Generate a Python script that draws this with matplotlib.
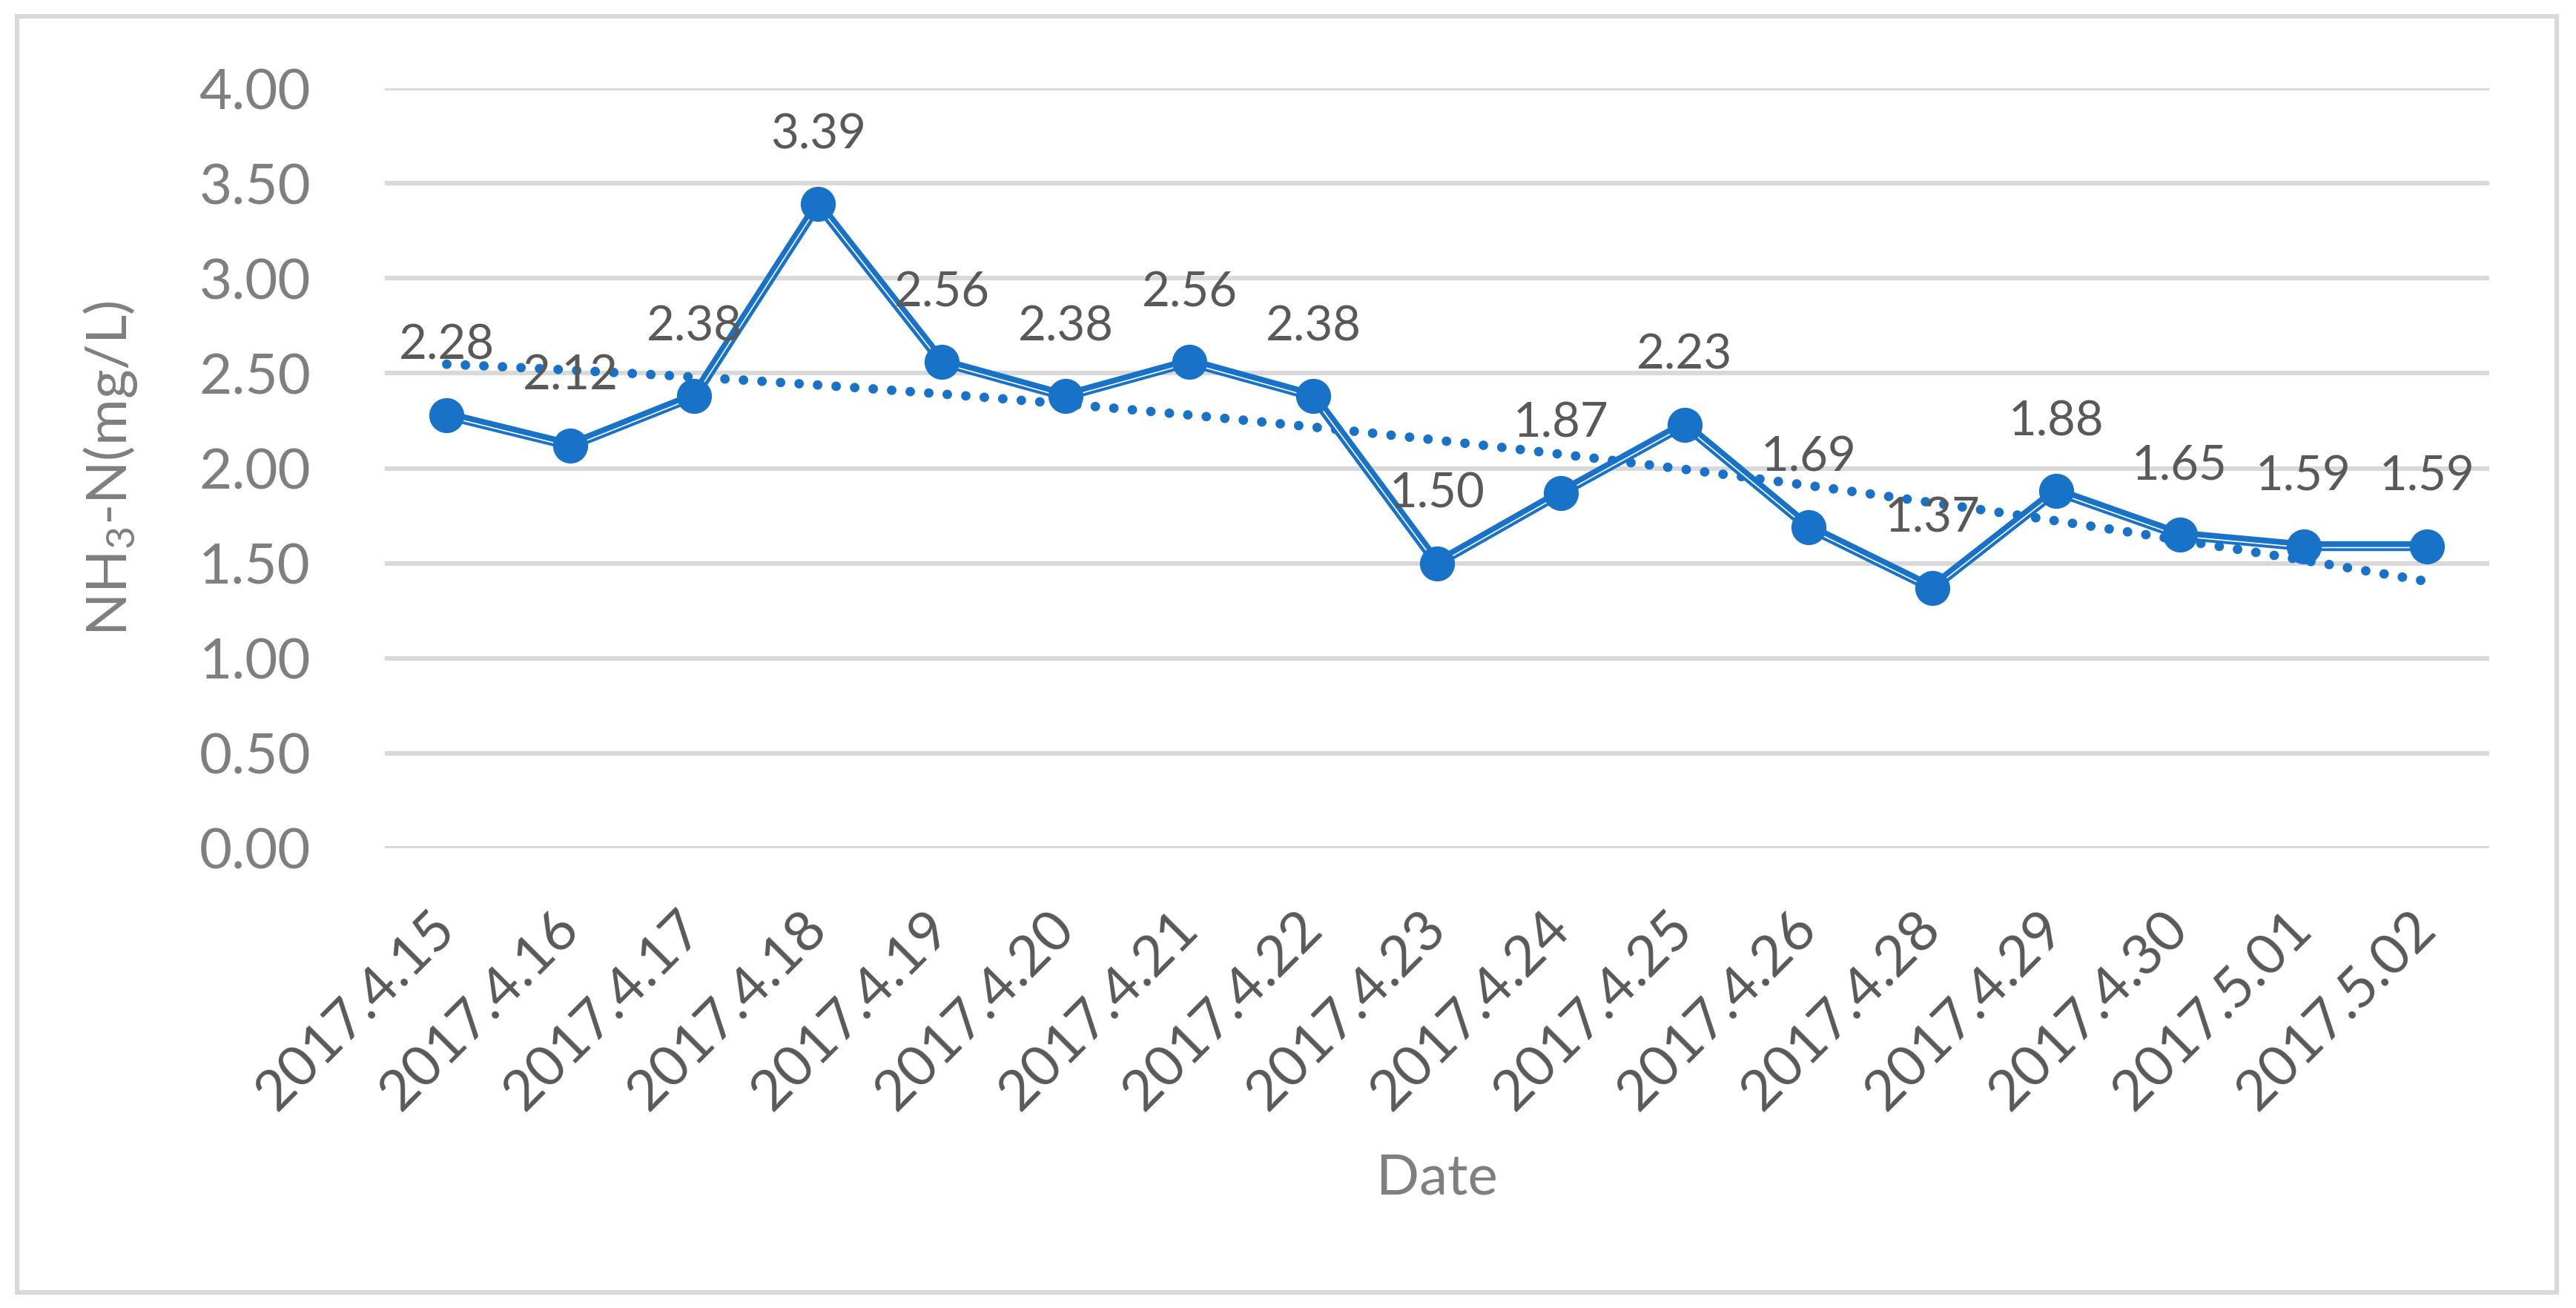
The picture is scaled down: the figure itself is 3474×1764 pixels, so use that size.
import numpy as np
import matplotlib
matplotlib.use("Agg")
import matplotlib.pyplot as plt
import matplotlib.transforms as mtransforms
from matplotlib.patches import Rectangle

plt.rcParams['font.family'] = ['Lato', 'DejaVu Sans']
plt.rcParams['mathtext.default'] = 'regular'

## Data
dates = ['2017.4.15', '2017.4.16', '2017.4.17', '2017.4.18', '2017.4.19',
         '2017.4.20', '2017.4.21', '2017.4.22', '2017.4.23', '2017.4.24',
         '2017.4.25', '2017.4.26', '2017.4.28', '2017.4.29', '2017.4.30',
         '2017.5.01', '2017.5.02']
nh3n = [2.28, 2.12, 2.38, 3.39, 2.56, 2.38, 2.56, 2.38, 1.50, 1.87,
        2.23, 1.69, 1.37, 1.88, 1.65, 1.59, 1.59]
yticks = [0.0, 0.5, 1.0, 1.5, 2.0, 2.5, 3.0, 3.5, 4.0]

blue = '#1872C8'
grid_c = '#D9D9D9'
tick_c = '#7F7F7F'
label_c = '#595959'

fig = plt.figure(figsize=(17.37, 8.82), dpi=200)
ax = fig.add_axes([0.1494, 0.3515, 0.9663 - 0.1494, 0.9325 - 0.3515])

x = np.arange(len(dates))

# gridlines
for v in yticks:
    ax.axhline(v, color=grid_c, lw=2.2, zorder=1)

# polynomial (order 2) trendline, like excel's
coef = np.polyfit(x, nh3n, 2)
xt = np.linspace(x[0], x[-1], 200)
ax.plot(xt, np.polyval(coef, xt), color=blue, lw=4.6, linestyle=(0, (0.01, 1.95)),
        dash_capstyle='round', zorder=2)

# main series, thick-thin double line look
ax.plot(x, nh3n, color=blue, lw=4.8, zorder=3)
white_tr = mtransforms.offset_copy(ax.transData, fig=fig, x=0, y=-0.7, units='points')
ax.plot(x, nh3n, color='white', lw=0.6, transform=white_tr, zorder=4)
ax.plot(x, nh3n, color=blue, lw=0, marker='o', ms=16, zorder=5)

for xi, yi in zip(x, nh3n):
    ax.annotate('%.2f' % yi, (xi, yi), xytext=(0, 27), textcoords='offset points',
                ha='center', va='baseline', fontsize=23.5, color=label_c, zorder=6)

ax.set_xlim(-0.5, len(dates) - 0.5)
ax.set_ylim(0, 4)
ax.set_yticks(yticks)
ax.set_yticklabels(['%.2f' % v for v in yticks])
ax.set_xticks(x)
ax.set_xticklabels(dates, rotation=45, ha='right', va='center', rotation_mode='anchor')
offset = mtransforms.ScaledTranslation(10 / 72, 0, fig.dpi_scale_trans)
for lab in ax.get_xticklabels():
    lab.set_transform(lab.get_transform() + offset)

ax.tick_params(axis='y', length=0, pad=36, labelsize=27.5, labelcolor=tick_c)
ax.tick_params(axis='x', length=0, pad=35, labelsize=27.5, labelcolor=label_c)
for s in ax.spines.values():
    s.set_visible(False)

ax.set_ylabel('NH$_3$-N(mg/L)', fontsize=27.5, color=tick_c)
ax.yaxis.set_label_coords(-0.1166, 0.5)
ax.set_xlabel('Date', fontsize=27.5, color=tick_c)
ax.xaxis.set_label_coords(0.5, -0.434)
ax.xaxis.label.set_va('center')

# chart border
fig.patches.append(Rectangle((0.0066, 0.0119), 0.9925 - 0.0066, 0.9875 - 0.0119,
                             transform=fig.transFigure, fill=False,
                             edgecolor=grid_c, lw=2.2))

fig.savefig('out.png', dpi=200)
